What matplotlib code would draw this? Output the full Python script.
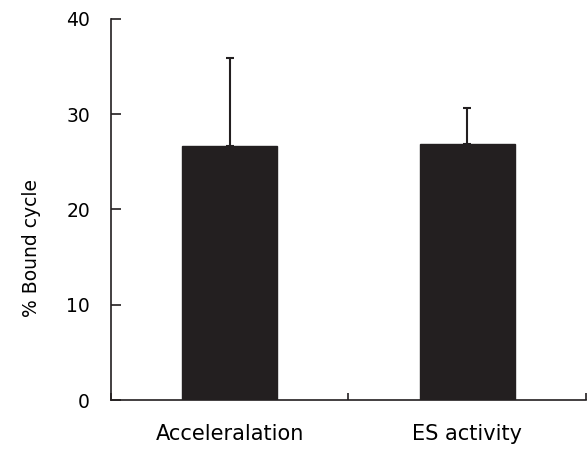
import matplotlib
matplotlib.use("Agg")
import matplotlib.pyplot as plt

categories = ["Acceleralation", "ES activity"]
values = [26.7, 26.9]
errors = [9.2, 3.7]
yticks = [0, 10, 20, 30, 40]

plt.rcParams['font.family'] = ['DejaVu Sans']
fig = plt.figure(figsize=(5.87, 4.5), dpi=100)
ax = fig.add_axes([0.189, 0.111, 0.809, 0.847])

x = [0.5, 1.5]
ax.bar(x, values, width=0.4, color="#231f20", edgecolor="#231f20", zorder=2)
ax.errorbar(x, values, yerr=[[0, 0], errors], fmt="none", ecolor="#231f20",
            elinewidth=1.5, capsize=3, capthick=1.5, zorder=3)

ax.set_xlim(0, 2)
ax.set_ylim(0, 40)
ax.spines['top'].set_visible(False)
ax.spines['right'].set_visible(False)
for s in ['left', 'bottom']:
    ax.spines[s].set_linewidth(1.2)
    ax.spines[s].set_color("#231f20")

ax.set_yticks(yticks)
ax.set_yticklabels([str(t) for t in yticks], fontsize=13.5)
ax.tick_params(axis='y', direction='in', length=7, width=1.2, pad=15, color="#231f20")

ax.set_xticks([0, 1, 2])
ax.set_xticklabels(["", "", ""])
ax.tick_params(axis='x', which='major', direction='in', length=5, width=1.2, color="#231f20")
ax.set_xticks(x, minor=True)
ax.set_xticklabels(categories, minor=True, fontsize=15)
ax.tick_params(axis='x', which='minor', length=0, pad=17)

ax.set_ylabel("% Bound cycle", fontsize=13.5, labelpad=18, y=0.4)

fig.savefig("out.png", dpi=100)
